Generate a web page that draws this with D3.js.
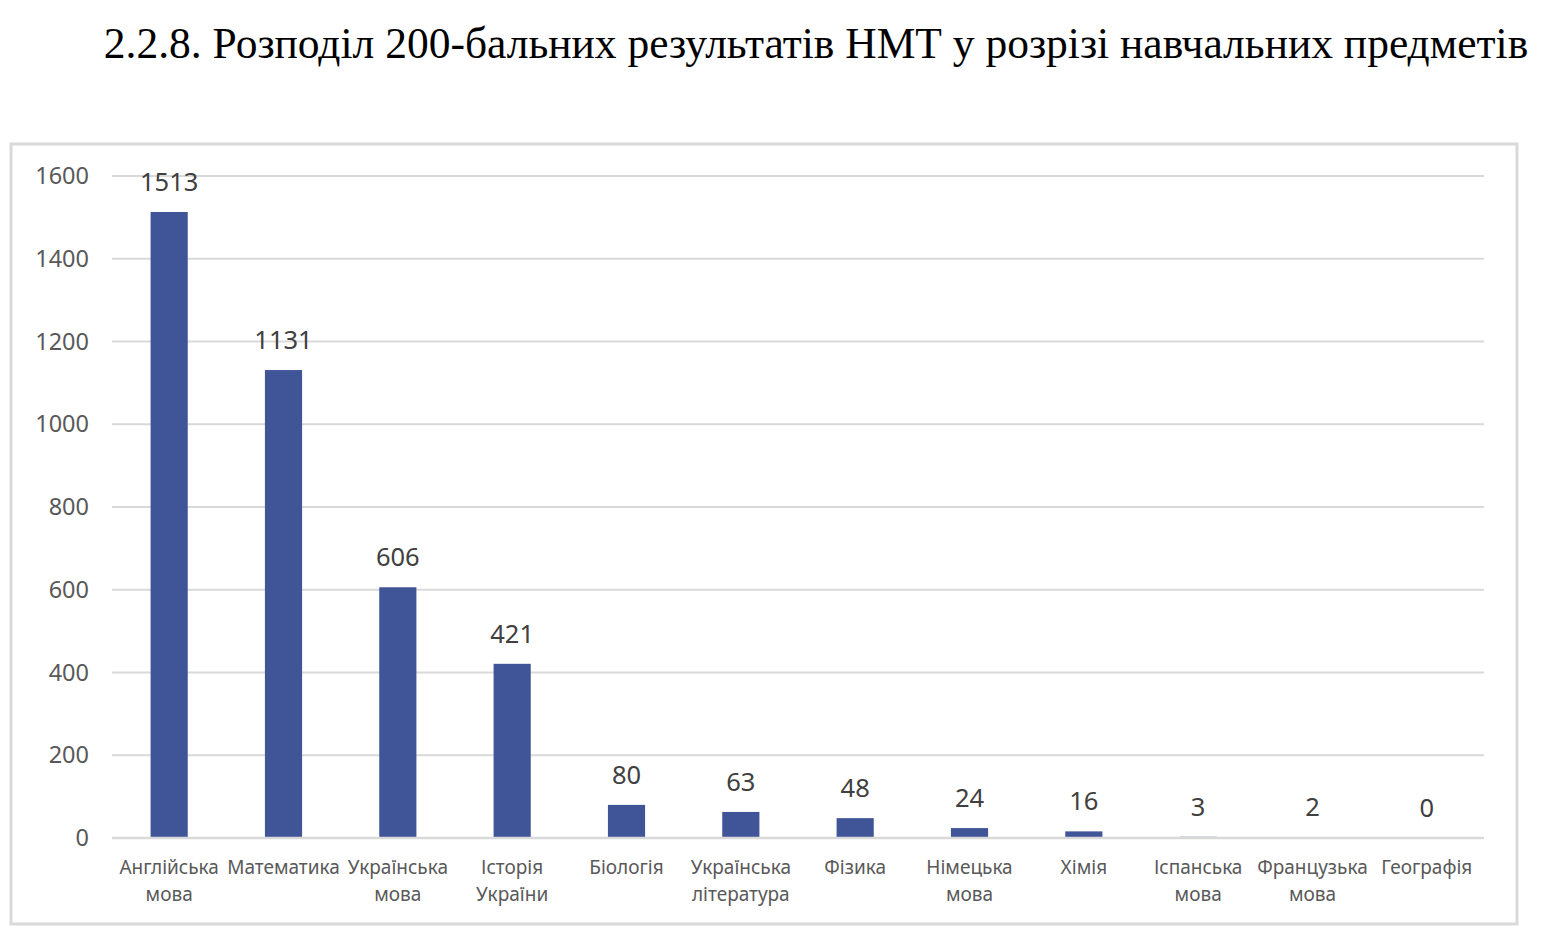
<!DOCTYPE html>
<html>
<head>
<meta charset="utf-8">
<script src="https://cdn.jsdelivr.net/npm/d3@7"></script>
<style>
  body { margin: 0; background: #fff; }
  svg { display: block; }
</style>
</head>
<body>
<svg id="chart" width="1556" height="952"></svg>
<script>
const subjects = [
  ["Англійська", "мова"], ["Математика"], ["Українська", "мова"], ["Історія", "України"],
  ["Біологія"], ["Українська", "література"], ["Фізика"], ["Німецька", "мова"],
  ["Хімія"], ["Іспанська", "мова"], ["Французька", "мова"], ["Географія"]
];
const counts = [1513, 1131, 606, 421, 80, 63, 48, 24, 16, 3, 2, 0];
const yTicks = [0, 200, 400, 600, 800, 1000, 1200, 1400, 1600];
const title = "2.2.8. Розподіл 200-бальних результатів НМТ у розрізі навчальних предметів";

const svg = d3.select("#chart");
const font = "'Noto Sans', 'Open Sans', sans-serif";
const textColor = "#595959";

svg.append("text")
  .attr("x", 816).attr("y", 58)
  .attr("text-anchor", "middle")
  .style("font", "43.5px 'Liberation Serif', 'Times New Roman', serif")
  .attr("fill", "#000")
  .text(title);

// chart frame
svg.append("rect")
  .attr("x", 11).attr("y", 144).attr("width", 1506).attr("height", 780)
  .attr("fill", "#fff").attr("stroke", "#d9d9d9").attr("stroke-width", 3);

const x = d3.scaleBand()
  .domain(d3.range(subjects.length))
  .range([112, 1484])
  .paddingInner(0.675).paddingOuter(0.3375);

const y = d3.scaleLinear().domain([0, 1600]).range([838, 176]);

// gridlines
const grid = svg.append("g");

// bars
svg.append("g")
  .selectAll("rect")
  .data(counts)
  .join("rect")
  .attr("x", (d, i) => x(i))
  .attr("width", x.bandwidth())
  .attr("y", d => y(d))
  .attr("height", d => y(0) - y(d))
  .attr("fill", "#3f5597");

grid.selectAll("line")
  .data(yTicks)
  .join("line")
  .attr("x1", 112).attr("x2", 1484)
  .attr("y1", d => y(d)).attr("y2", d => y(d))
  .attr("stroke", "#d9d9d9").attr("stroke-width", 2);

// axis line on top of the bars
svg.append("line")
  .attr("x1", 112).attr("x2", 1484)
  .attr("y1", y(0)).attr("y2", y(0))
  .attr("stroke", "#d9d9d9").attr("stroke-width", 2.5);

// y labels
svg.append("g")
  .selectAll("text")
  .data(yTicks)
  .join("text")
  .attr("x", 89).attr("y", d => y(d))
  .attr("dy", "0.35em")
  .attr("text-anchor", "end")
  .style("font", `23.5px ${font}`)
  .attr("fill", textColor)
  .text(d => d);

// value labels
svg.append("g")
  .selectAll("text")
  .data(counts)
  .join("text")
  .attr("x", (d, i) => x(i) + x.bandwidth() / 2)
  .attr("y", d => y(d) - 21)
  .attr("text-anchor", "middle")
  .style("font", `25.5px ${font}`)
  .attr("fill", "#404040")
  .text(d => d);

// category labels
svg.append("g")
  .selectAll("text")
  .data(subjects)
  .join("text")
  .attr("x", (d, i) => x(i) + x.bandwidth() / 2)
  .attr("y", 874)
  .attr("text-anchor", "middle")
  .style("font", `19px ${font}`)
  .attr("fill", textColor)
  .selectAll("tspan")
  .data(d => d)
  .join("tspan")
  .attr("x", function () { return this.parentNode.getAttribute("x"); })
  .attr("dy", (d, i) => i === 0 ? 0 : 27)
  .text(d => d);
</script>
</body>
</html>
